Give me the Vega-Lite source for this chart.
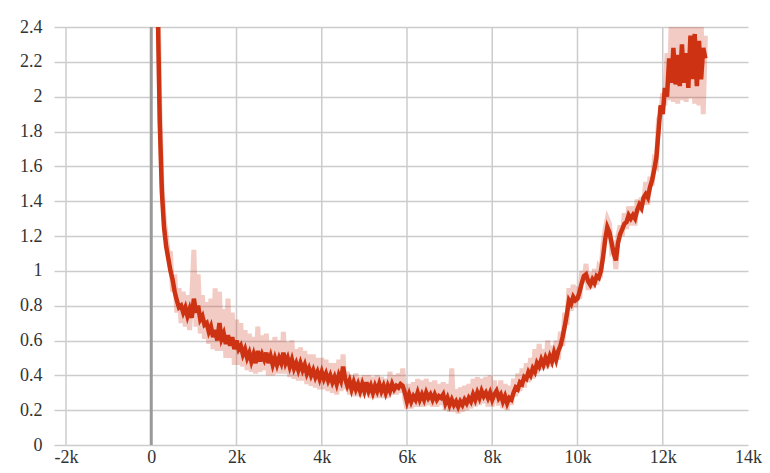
{
  "$schema": "https://vega.github.io/schema/vega-lite/v6.json",
  "width": 682,
  "height": 418,
  "autosize": "none",
  "padding": {"left": 66, "top": 27, "right": 22, "bottom": 28},
  "config": {"view": {"stroke": null}},
  "layer": [
    {
      "data": {"values": [{"g": -2000}, {"g": 2000}, {"g": 4000}, {"g": 6000}, {"g": 8000}, {"g": 10000}, {"g": 12000}]},
      "mark": {"type": "rule", "color": "#cccccc", "strokeWidth": 1.5},
      "encoding": {"x": {"field": "g", "type": "quantitative", "title": null}}
    },
    {
      "data": {"values": [{"g": 0}]},
      "mark": {"type": "rule", "color": "#999999", "strokeWidth": 3},
      "encoding": {"x": {"field": "g", "type": "quantitative", "title": null}}
    },
    {
      "data": {"values": [
      {"s":100,"v":3.2,"r":3.4},{"s":150,"v":2.55,"r":2.7},{"s":200,"v":1.85,"r":1.95},{"s":250,"v":1.45,"r":1.5},{"s":300,"v":1.25,"r":1.3},{"s":350,"v":1.14,"r":1.2},{"s":400,"v":1.07,"r":1.1},{"s":450,"v":1.0,"r":1.1},{"s":500,"v":0.95,"r":0.88},{"s":550,"v":0.88,"r":0.98},{"s":600,"v":0.83,"r":0.76},{"s":650,"v":0.79,"r":0.9},{"s":700,"v":0.8,"r":0.7},{"s":750,"v":0.76,"r":0.88},{"s":800,"v":0.79,"r":0.68},{"s":850,"v":0.74,"r":0.86},{"s":900,"v":0.78,"r":0.66},{"s":950,"v":0.73,"r":0.84},
      {"s":1000,"v":0.84,"r":1.12},{"s":1050,"v":0.76,"r":0.68},{"s":1100,"v":0.8,"r":0.98},{"s":1150,"v":0.72,"r":0.64},{"s":1200,"v":0.74,"r":0.86},{"s":1250,"v":0.69,"r":0.61},{"s":1300,"v":0.7,"r":0.82},{"s":1350,"v":0.65,"r":0.58},{"s":1400,"v":0.68,"r":0.84},{"s":1450,"v":0.62,"r":0.55},{"s":1500,"v":0.66,"r":0.9},{"s":1550,"v":0.6,"r":0.54},{"s":1600,"v":0.7,"r":0.88},{"s":1650,"v":0.61,"r":0.54},{"s":1700,"v":0.64,"r":0.78},{"s":1750,"v":0.58,"r":0.5},{"s":1800,"v":0.63,"r":0.84},{"s":1850,"v":0.57,"r":0.5},{"s":1900,"v":0.62,"r":0.76},{"s":1950,"v":0.55,"r":0.46},
      {"s":2000,"v":0.6,"r":0.72},{"s":2050,"v":0.55,"r":0.46},{"s":2100,"v":0.57,"r":0.7},{"s":2150,"v":0.52,"r":0.45},{"s":2200,"v":0.55,"r":0.66},{"s":2250,"v":0.5,"r":0.43},{"s":2300,"v":0.53,"r":0.64},{"s":2350,"v":0.48,"r":0.42},{"s":2400,"v":0.52,"r":0.62},{"s":2450,"v":0.47,"r":0.41},{"s":2500,"v":0.54,"r":0.68},{"s":2550,"v":0.48,"r":0.42},{"s":2600,"v":0.52,"r":0.63},{"s":2650,"v":0.49,"r":0.43},{"s":2700,"v":0.53,"r":0.64},{"s":2750,"v":0.47,"r":0.4},{"s":2800,"v":0.51,"r":0.6},{"s":2850,"v":0.46,"r":0.4},{"s":2900,"v":0.5,"r":0.62},{"s":2950,"v":0.46,"r":0.41},
      {"s":3000,"v":0.5,"r":0.6},{"s":3050,"v":0.47,"r":0.41},{"s":3100,"v":0.53,"r":0.65},{"s":3150,"v":0.47,"r":0.41},{"s":3200,"v":0.5,"r":0.59},{"s":3250,"v":0.45,"r":0.39},{"s":3300,"v":0.49,"r":0.6},{"s":3350,"v":0.44,"r":0.38},{"s":3400,"v":0.47,"r":0.55},{"s":3450,"v":0.43,"r":0.37},{"s":3500,"v":0.47,"r":0.56},{"s":3550,"v":0.43,"r":0.37},{"s":3600,"v":0.46,"r":0.54},{"s":3650,"v":0.41,"r":0.35},{"s":3700,"v":0.44,"r":0.52},{"s":3750,"v":0.4,"r":0.34},{"s":3800,"v":0.43,"r":0.52},{"s":3850,"v":0.39,"r":0.33},{"s":3900,"v":0.42,"r":0.5},{"s":3950,"v":0.38,"r":0.32},
      {"s":4000,"v":0.42,"r":0.5},{"s":4050,"v":0.38,"r":0.32},{"s":4100,"v":0.41,"r":0.49},{"s":4150,"v":0.37,"r":0.31},{"s":4200,"v":0.4,"r":0.47},{"s":4250,"v":0.36,"r":0.3},{"s":4300,"v":0.39,"r":0.47},{"s":4350,"v":0.35,"r":0.29},{"s":4400,"v":0.4,"r":0.49},{"s":4450,"v":0.37,"r":0.31},{"s":4500,"v":0.45,"r":0.52},{"s":4550,"v":0.38,"r":0.32},{"s":4600,"v":0.34,"r":0.42},{"s":4650,"v":0.37,"r":0.29},{"s":4700,"v":0.32,"r":0.4},{"s":4750,"v":0.36,"r":0.28},{"s":4800,"v":0.32,"r":0.41},{"s":4850,"v":0.35,"r":0.28},{"s":4900,"v":0.31,"r":0.39},{"s":4950,"v":0.35,"r":0.28},
      {"s":5000,"v":0.31,"r":0.4},{"s":5050,"v":0.36,"r":0.29},{"s":5100,"v":0.31,"r":0.4},{"s":5150,"v":0.34,"r":0.27},{"s":5200,"v":0.3,"r":0.39},{"s":5250,"v":0.34,"r":0.27},{"s":5300,"v":0.31,"r":0.4},{"s":5350,"v":0.35,"r":0.27},{"s":5400,"v":0.31,"r":0.39},{"s":5450,"v":0.34,"r":0.27},{"s":5500,"v":0.3,"r":0.38},{"s":5550,"v":0.34,"r":0.27},{"s":5600,"v":0.31,"r":0.42},{"s":5650,"v":0.35,"r":0.29},{"s":5700,"v":0.32,"r":0.4},{"s":5750,"v":0.34,"r":0.29},{"s":5800,"v":0.33,"r":0.41},{"s":5850,"v":0.35,"r":0.3},{"s":5900,"v":0.34,"r":0.44},{"s":5950,"v":0.3,"r":0.26},
      {"s":6000,"v":0.25,"r":0.21},{"s":6050,"v":0.29,"r":0.35},{"s":6100,"v":0.25,"r":0.21},{"s":6150,"v":0.28,"r":0.36},{"s":6200,"v":0.26,"r":0.22},{"s":6250,"v":0.3,"r":0.38},{"s":6300,"v":0.26,"r":0.22},{"s":6350,"v":0.29,"r":0.37},{"s":6400,"v":0.26,"r":0.22},{"s":6450,"v":0.3,"r":0.38},{"s":6500,"v":0.27,"r":0.23},{"s":6550,"v":0.29,"r":0.36},{"s":6600,"v":0.26,"r":0.22},{"s":6650,"v":0.29,"r":0.37},{"s":6700,"v":0.26,"r":0.22},{"s":6750,"v":0.28,"r":0.35},{"s":6800,"v":0.27,"r":0.23},{"s":6850,"v":0.29,"r":0.36},{"s":6900,"v":0.24,"r":0.2},{"s":6950,"v":0.27,"r":0.35},
      {"s":7000,"v":0.23,"r":0.19},{"s":7050,"v":0.26,"r":0.44},{"s":7100,"v":0.23,"r":0.19},{"s":7150,"v":0.25,"r":0.32},{"s":7200,"v":0.22,"r":0.18},{"s":7250,"v":0.25,"r":0.33},{"s":7300,"v":0.23,"r":0.19},{"s":7350,"v":0.26,"r":0.34},{"s":7400,"v":0.24,"r":0.2},{"s":7450,"v":0.27,"r":0.35},{"s":7500,"v":0.25,"r":0.21},{"s":7550,"v":0.29,"r":0.38},{"s":7600,"v":0.26,"r":0.22},{"s":7650,"v":0.3,"r":0.39},{"s":7700,"v":0.27,"r":0.23},{"s":7750,"v":0.31,"r":0.38},{"s":7800,"v":0.28,"r":0.24},{"s":7850,"v":0.3,"r":0.39},{"s":7900,"v":0.27,"r":0.22},{"s":7950,"v":0.3,"r":0.4},
      {"s":8000,"v":0.26,"r":0.22},{"s":8050,"v":0.29,"r":0.37},{"s":8100,"v":0.31,"r":0.26},{"s":8150,"v":0.27,"r":0.23},{"s":8200,"v":0.29,"r":0.37},{"s":8250,"v":0.25,"r":0.21},{"s":8300,"v":0.28,"r":0.35},{"s":8350,"v":0.24,"r":0.2},{"s":8400,"v":0.27,"r":0.34},{"s":8450,"v":0.26,"r":0.23},{"s":8500,"v":0.3,"r":0.38},{"s":8550,"v":0.33,"r":0.28},{"s":8600,"v":0.32,"r":0.41},{"s":8650,"v":0.36,"r":0.31},{"s":8700,"v":0.35,"r":0.44},{"s":8750,"v":0.39,"r":0.33},{"s":8800,"v":0.38,"r":0.47},{"s":8850,"v":0.42,"r":0.36},{"s":8900,"v":0.4,"r":0.5},{"s":8950,"v":0.44,"r":0.38},
      {"s":9000,"v":0.42,"r":0.55},{"s":9050,"v":0.47,"r":0.41},{"s":9100,"v":0.45,"r":0.58},{"s":9150,"v":0.49,"r":0.43},{"s":9200,"v":0.46,"r":0.55},{"s":9250,"v":0.5,"r":0.44},{"s":9300,"v":0.47,"r":0.6},{"s":9350,"v":0.51,"r":0.45},{"s":9400,"v":0.48,"r":0.57},{"s":9450,"v":0.53,"r":0.47},{"s":9500,"v":0.49,"r":0.6},{"s":9550,"v":0.54,"r":0.49},{"s":9600,"v":0.57,"r":0.65},{"s":9650,"v":0.62,"r":0.57},{"s":9700,"v":0.68,"r":0.76},{"s":9750,"v":0.75,"r":0.69},{"s":9800,"v":0.83,"r":0.9},{"s":9850,"v":0.81,"r":0.77},{"s":9900,"v":0.85,"r":0.92},{"s":9950,"v":0.83,"r":0.79},
      {"s":10000,"v":0.84,"r":0.91},{"s":10050,"v":0.88,"r":0.84},{"s":10100,"v":0.93,"r":1.0},{"s":10150,"v":0.97,"r":0.93},{"s":10200,"v":0.98,"r":1.04},{"s":10250,"v":0.94,"r":0.89},{"s":10300,"v":0.92,"r":0.99},{"s":10350,"v":0.95,"r":0.9},{"s":10400,"v":0.93,"r":1.01},{"s":10450,"v":0.97,"r":0.92},{"s":10500,"v":0.96,"r":1.02},{"s":10550,"v":1.0,"r":1.0},{"s":10600,"v":1.08,"r":1.15},{"s":10650,"v":1.18,"r":1.24},{"s":10700,"v":1.25,"r":1.3},{"s":10750,"v":1.22,"r":1.27},{"s":10800,"v":1.16,"r":1.12},{"s":10850,"v":1.1,"r":1.14},{"s":10900,"v":1.06,"r":1.01},{"s":10950,"v":1.16,"r":1.2},
      {"s":11000,"v":1.21,"r":1.26},{"s":11050,"v":1.24,"r":1.2},{"s":11100,"v":1.27,"r":1.33},{"s":11150,"v":1.28,"r":1.24},{"s":11200,"v":1.32,"r":1.37},{"s":11250,"v":1.3,"r":1.26},{"s":11300,"v":1.32,"r":1.37},{"s":11350,"v":1.3,"r":1.26},{"s":11400,"v":1.35,"r":1.41},{"s":11450,"v":1.38,"r":1.34},{"s":11500,"v":1.36,"r":1.42},{"s":11550,"v":1.42,"r":1.38},{"s":11600,"v":1.44,"r":1.51},{"s":11650,"v":1.42,"r":1.38},{"s":11700,"v":1.48,"r":1.54},{"s":11750,"v":1.52,"r":1.49},{"s":11800,"v":1.58,"r":1.63},{"s":11850,"v":1.65,"r":1.61},{"s":11900,"v":1.8,"r":1.87},{"s":11950,"v":1.95,"r":1.9},
      {"s":12000,"v":1.9,"r":2.02},{"s":12050,"v":2.05,"r":1.95},{"s":12100,"v":2.0,"r":2.25},{"s":12150,"v":2.22,"r":1.98},{"s":12200,"v":2.08,"r":2.45},{"s":12250,"v":2.28,"r":1.97},{"s":12300,"v":2.07,"r":2.45},{"s":12350,"v":2.24,"r":1.96},{"s":12400,"v":2.06,"r":2.5},{"s":12450,"v":2.3,"r":1.98},{"s":12500,"v":2.08,"r":2.45},{"s":12550,"v":2.25,"r":1.97},{"s":12600,"v":2.05,"r":2.5},{"s":12650,"v":2.35,"r":1.99},{"s":12700,"v":2.1,"r":2.5},{"s":12750,"v":2.36,"r":1.96},{"s":12800,"v":2.06,"r":2.5},{"s":12850,"v":2.32,"r":1.95},{"s":12900,"v":2.1,"r":2.45},{"s":12950,"v":2.28,"r":1.9},{"s":13000,"v":2.22,"r":2.35}
      ]},
      "transform": [{"fold": ["r", "v"], "as": ["k", "val"]}],
      "mark": {"type": "line", "clip": true, "strokeJoin": "miter"},
      "encoding": {
        "x": {"field": "s", "type": "quantitative", "title": null,
          "scale": {"domain": [-2000, 14000], "nice": false, "zero": false},
          "axis": {"values": [-2000, 0, 2000, 4000, 6000, 8000, 10000, 12000, 14000],
            "labelExpr": "datum.value == 0 ? '0' : (datum.value / 1000) + 'k'",
            "labelFont": "Liberation Serif", "labelFontSize": 18, "labelColor": "#333333", "labelOverlap": false, "labelFlush": false,
            "domain": false, "ticks": false, "tickSize": 0, "labelPadding": 3, "grid": false}},
        "y": {"field": "val", "type": "quantitative", "title": null,
          "scale": {"domain": [0, 2.4], "nice": false, "zero": true},
          "axis": {"values": [0, 0.2, 0.4, 0.6, 0.8, 1, 1.2, 1.4, 1.6, 1.8, 2, 2.2, 2.4], "format": "~g",
            "labelFont": "Liberation Serif", "labelFontSize": 18, "labelColor": "#333333", "labelOverlap": false, "labelFlush": false,
            "domain": false, "ticks": true, "tickSize": 12, "tickColor": "#cccccc", "tickWidth": 1.5, "labelPadding": 12,
            "grid": true, "gridColor": "#cccccc", "gridWidth": 1.5}},
        "color": {"field": "k", "type": "nominal", "scale": {"domain": ["r", "v"], "range": ["#cd3312", "#cd3312"]}, "legend": null},
        "opacity": {"field": "k", "type": "nominal", "scale": {"domain": ["r", "v"], "range": [0.25, 1]}, "legend": null},
        "strokeWidth": {"field": "k", "type": "nominal", "scale": {"domain": ["r", "v"], "range": [5, 4.5]}, "legend": null}
      }
    }
  ]
}
